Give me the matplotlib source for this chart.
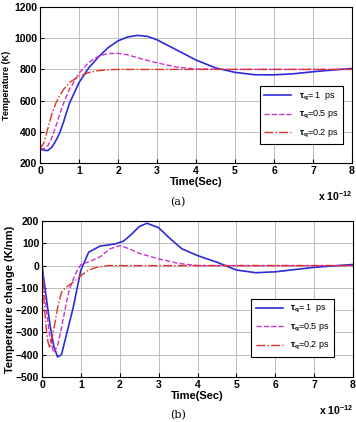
import matplotlib.pyplot as plt

plt.rcParams['font.family'] = ['Liberation Sans', 'DejaVu Sans']
plt.rcParams['mathtext.fontset'] = 'custom'
plt.rcParams['mathtext.rm'] = 'Liberation Sans:bold'
plt.rcParams['mathtext.it'] = 'Liberation Sans:bold'
plt.rcParams['mathtext.bf'] = 'Liberation Sans:bold'

labels = [r'$\tau_q$= 1  ps', r'$\tau_q$=0.5 ps', r'$\tau_q$=0.2 ps']

# (a) temperature, time in units of 1e-12 s
t1 = [0, 0.1, 0.2, 0.3, 0.4, 0.5, 0.6, 0.75, 1.0, 1.25, 1.5, 1.75, 2.0, 2.25, 2.5, 2.75, 3.0, 3.5, 4.0, 4.5, 5.0, 5.5, 6.0, 6.5, 7.0, 7.5, 8.0]
T1 = [290, 282, 280, 300, 340, 390, 460, 580, 715, 810, 880, 940, 983, 1008, 1018, 1012, 990, 925, 860, 810, 781, 766, 765, 772, 785, 796, 806]
t2 = [0, 0.1, 0.2, 0.3, 0.4, 0.5, 0.6, 0.75, 1.0, 1.25, 1.5, 1.75, 2.0, 2.25, 2.5, 2.75, 3.0, 3.5, 4.0, 5.0, 6.0, 7.0, 8.0]
T2 = [290, 292, 310, 360, 430, 510, 580, 670, 775, 845, 885, 902, 903, 893, 875, 858, 842, 815, 803, 800, 800, 800, 800]
t3 = [0, 0.1, 0.2, 0.3, 0.4, 0.5, 0.6, 0.75, 1.0, 1.25, 1.5, 1.75, 2.0, 3.0, 4.0, 5.0, 6.0, 7.0, 8.0]
T3 = [290, 330, 420, 510, 580, 630, 670, 715, 755, 780, 792, 798, 800, 800, 800, 800, 800, 800, 800]

# (b) temperature change
s1 = [0, 0.1, 0.2, 0.3, 0.4, 0.5, 0.6, 0.8, 1.0, 1.2, 1.5, 1.7, 1.9, 2.1, 2.3, 2.5, 2.7, 3.0, 3.3, 3.6, 4.0, 4.5, 5.0, 5.5, 6.0, 6.5, 7.0, 8.0]
d1 = [0, -130, -260, -360, -410, -400, -330, -190, -20, 60, 88, 92, 98, 110, 140, 175, 190, 170, 120, 75, 45, 15, -20, -32, -28, -18, -8, 5]
s2 = [0, 0.1, 0.2, 0.3, 0.4, 0.5, 0.6, 0.7, 0.85, 1.0, 1.25, 1.5, 1.75, 2.0, 2.25, 2.5, 3.0, 3.5, 4.0, 5.0, 6.0, 7.0, 8.0]
d2 = [0, -180, -320, -390, -360, -280, -190, -110, -40, 5, 20, 40, 75, 90, 75, 55, 30, 10, 0, 0, 0, 0, 0]
s3 = [0, 0.05, 0.1, 0.15, 0.2, 0.3, 0.4, 0.5, 0.6, 0.8, 1.0, 1.2, 1.4, 1.7, 2.0, 3.0, 4.0, 5.0, 6.0, 7.0, 8.0]
d3 = [0, -150, -270, -340, -370, -290, -190, -120, -100, -75, -45, -20, -8, 0, 0, 0, 0, 0, 0, 0, 0]

colors = ['#2b2bd9', '#cc33cc', '#e0302a']
styles = ['-', '--', '-.']

fig = plt.figure(figsize=(3.56, 4.22), dpi=100)
ax1 = fig.add_axes([40 / 356, 1 - 163 / 422, 312 / 356, 156 / 422])
ax2 = fig.add_axes([42 / 356, 1 - 377 / 422, 311 / 356, 156 / 422])

for x, y, c, ls, lb in zip([t1, t2, t3], [T1, T2, T3], colors, styles, labels):
    ax1.plot(x, y, color=c, ls=ls, lw=1.2 if ls == '-' else 1.0, label=lb)
for x, y, c, ls, lb in zip([s1, s2, s3], [d1, d2, d3], colors, styles, labels):
    ax2.plot(x, y, color=c, ls=ls, lw=1.2 if ls == '-' else 1.0, label=lb)

ax1.set_ylim(200, 1200)
ax1.set_yticks(range(200, 1201, 200))
ax2.set_ylim(-500, 200)
ax2.set_yticks(range(-500, 201, 100))

legpos = {ax1: (0.97, 0.12), ax2: (0.94, 0.13)}
for ax in (ax1, ax2):
    ax.set_xlim(0, 8)
    ax.set_xticks(range(0, 9))
    ax.grid(True, color='#bdbdbd', lw=0.7)
    ax.tick_params(direction='in', length=3, labelsize=7.5, pad=2)
    for lab in ax.get_xticklabels() + ax.get_yticklabels():
        lab.set_fontweight('bold')
    ax.set_xlabel('Time(Sec)', fontsize=8, fontweight='bold', labelpad=1)
    ax.text(1.0, -0.165, r'x 10$^{-12}$', transform=ax.transAxes, ha='right', va='top',
            fontsize=7.5, fontweight='bold')
    leg = ax.legend(loc='lower right', bbox_to_anchor=legpos[ax], fontsize=6.5, fancybox=False,
                    edgecolor='black', framealpha=1, handlelength=3.0, borderpad=0.5,
                    labelspacing=0.7, borderaxespad=0)
    leg.get_frame().set_linewidth(0.8)
    for sp in ax.spines.values():
        sp.set_linewidth(0.8)

ax1.set_ylabel('Temperature (K)', fontsize=6.5, fontweight='bold', labelpad=2)
ax2.set_ylabel('Temperature change (K/nm)', fontsize=8, fontweight='bold', labelpad=1)

fig.text(178 / 356, 1 - 202 / 422, '(a)', ha='center', va='center', fontsize=8, family='DejaVu Serif')
fig.text(178 / 356, 1 - 415 / 422, '(b)', ha='center', va='center', fontsize=8, family='DejaVu Serif')

fig.savefig('out.png', dpi=100)
